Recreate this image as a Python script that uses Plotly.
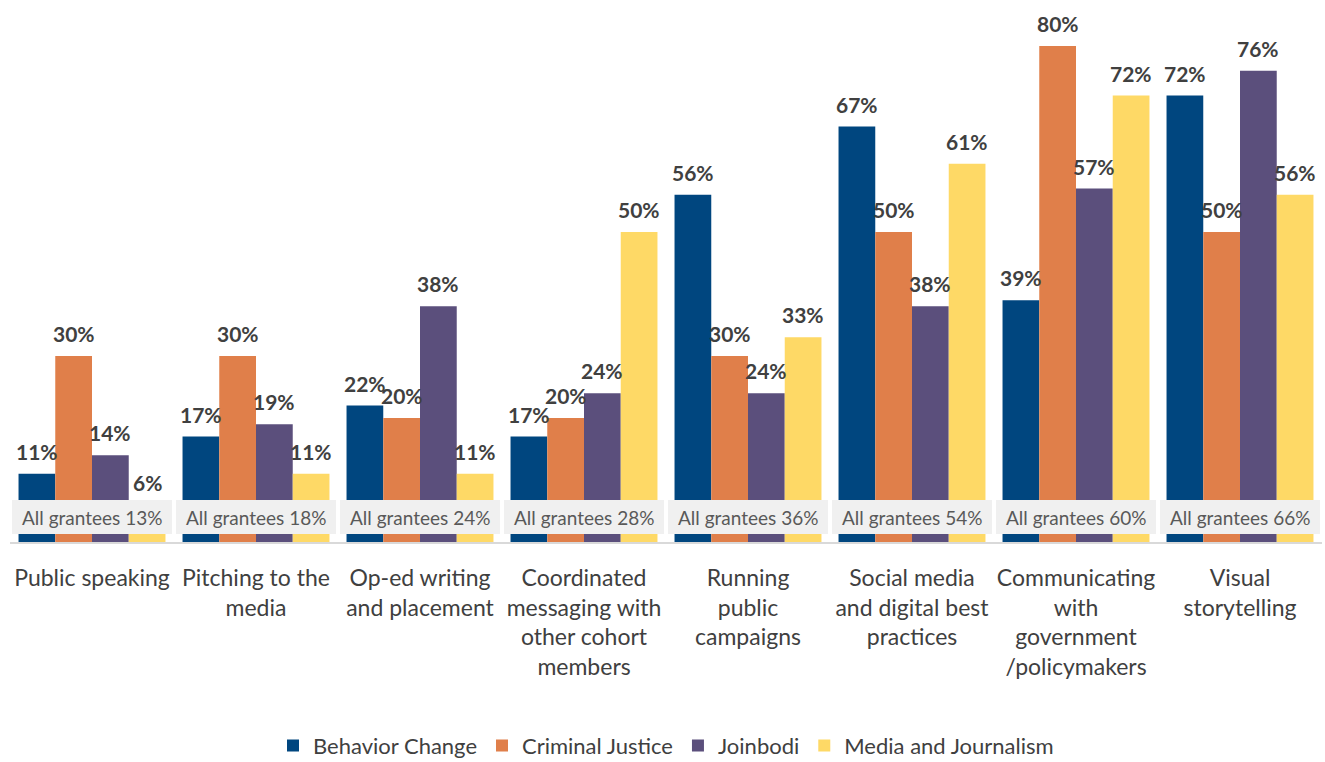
import plotly.graph_objects as go

categories = [
    "Public speaking",
    "Pitching to the<br>media",
    "Op-ed writing<br>and placement",
    "Coordinated<br>messaging with<br>other cohort<br>members",
    "Running<br>public<br>campaigns",
    "Social media<br>and digital best<br>practices",
    "Communicating<br>with<br>government<br>/policymakers",
    "Visual<br>storytelling",
]

behavior_change = [11, 17, 22, 17, 56, 67, 39, 72]
criminal_justice = [30, 30, 20, 20, 30, 50, 80, 50]
joinbodi = [14, 19, 38, 24, 24, 38, 57, 76]
media_journalism = [6, 11, 11, 50, 33, 61, 72, 56]
all_grantees = [13, 18, 24, 28, 36, 54, 60, 66]

series = [
    ("Behavior Change", behavior_change, "#00467F"),
    ("Criminal Justice", criminal_justice, "#E07F4A"),
    ("Joinbodi", joinbodi, "#5B4F7C"),
    ("Media and Journalism", media_journalism, "#FED966"),
]

FONT = "Lato, 'Open Sans', sans-serif"
BARGAP = 0.104
bar_w = (1 - BARGAP) / len(series)

fig = go.Figure()
for name, vals, color in series:
    fig.add_trace(go.Bar(
        name=name, x=categories, y=vals,
        marker=dict(color=color, line=dict(width=0)),
    ))

annotations = []
# value labels above each bar
for s_i, (name, vals, color) in enumerate(series):
    off = (s_i - (len(series) - 1) / 2) * bar_w
    for c_i, v in enumerate(vals):
        annotations.append(dict(
            x=c_i + off, y=v, xref="x", yref="y",
            text=f"{v}%", showarrow=False, yanchor="bottom",
            yshift=8, font=dict(family=FONT, size=21, color="#404040", weight="bold"),
        ))

# "All grantees" summary boxes laid over the base of each group
shapes = []
box_lo, box_hi = 1.29, 6.77
for c_i, g in enumerate(all_grantees):
    shapes.append(dict(
        type="rect", xref="x", yref="y",
        x0=c_i - 0.488, x1=c_i + 0.488, y0=box_lo, y1=box_hi,
        fillcolor="#F0F0F0", line=dict(width=0), layer="above",
    ))
    annotations.append(dict(
        x=c_i, y=(box_lo + box_hi) / 2, xref="x", yref="y",
        text=f"All grantees {g}%", showarrow=False,
        font=dict(family=FONT, size=19, color="#595959"),
    ))

fig.update_layout(
    width=1325, height=762,
    margin=dict(l=10, r=3, t=0, b=220, autoexpand=False),
    paper_bgcolor="white", plot_bgcolor="white",
    barmode="group", bargap=BARGAP, bargroupgap=0,
    font=dict(family=FONT, color="#404040"),
    xaxis=dict(
        type="category", showgrid=False, zeroline=False, automargin=False,
        showline=True, linecolor="#D9D9D9", linewidth=2,
        ticks="", ticklabelstandoff=14,
        tickfont=dict(family=FONT, size=23, color="#404040"),
    ),
    yaxis=dict(range=[0, 87.4], visible=False, showgrid=False, zeroline=False),
    legend=dict(
        orientation="h", x=0.5, xanchor="center", y=-0.376, yanchor="middle",
        font=dict(family=FONT, size=22, color="#404040"),
        itemwidth=30, traceorder="normal",
    ),
    shapes=shapes,
    annotations=annotations,
)

fig.write_html("out.html")
